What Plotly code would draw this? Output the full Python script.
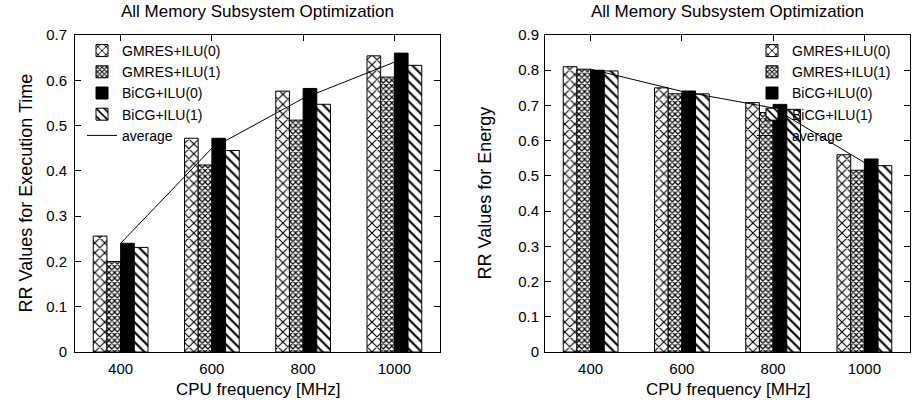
import plotly.graph_objects as go

# ---------------- data ----------------
freqs = ["400", "600", "800", "1000"]
series_names = ["GMRES+ILU(0)", "GMRES+ILU(1)", "BiCG+ILU(0)", "BiCG+ILU(1)"]

time_gmres_ilu0 = [0.256, 0.472, 0.576, 0.654]
time_gmres_ilu1 = [0.200, 0.413, 0.512, 0.607]
time_bicg_ilu0 = [0.240, 0.472, 0.582, 0.660]
time_bicg_ilu1 = [0.231, 0.445, 0.547, 0.633]
time_average = [0.240, 0.450, 0.560, 0.640]

energy_gmres_ilu0 = [0.810, 0.750, 0.708, 0.560]
energy_gmres_ilu1 = [0.803, 0.733, 0.680, 0.516]
energy_bicg_ilu0 = [0.800, 0.741, 0.703, 0.548]
energy_bicg_ilu1 = [0.798, 0.733, 0.689, 0.529]
energy_average = [0.803, 0.740, 0.693, 0.538]

title_text = "All Memory Subsystem Optimization"
xlabel = "CPU frequency [MHz]"
ylabel_time = "RR Values for Execution Time"
ylabel_energy = "RR Values for Energy"

# ---------------- styles ----------------
FONT = "Liberation Sans, Arial, Helvetica, sans-serif"
W, H = 914, 403

styles = [
    dict(color="white", pattern=dict(shape="x", size=7, solidity=0.3, fgcolor="black", bgcolor="white")),
    dict(color="white", pattern=dict(shape="x", size=4, solidity=0.5, fgcolor="black", bgcolor="white")),
    dict(color="black"),
    dict(color="white", pattern=dict(shape="\\", size=7, solidity=0.3, fgcolor="black", bgcolor="white")),
]

fig = go.Figure()


def add_panel(values, avg, xa, ya, legend):
    for name, vals, st in zip(series_names, values, styles):
        m = dict(line=dict(color="black", width=1), **st)
        fig.add_trace(go.Bar(x=freqs, y=vals, name=name, marker=m,
                             xaxis=xa, yaxis=ya, legend=legend))
    fig.add_trace(go.Scatter(x=freqs, y=avg, name="average", mode="lines",
                             line=dict(color="black", width=1),
                             xaxis=xa, yaxis=ya, legend=legend))


add_panel([time_gmres_ilu0, time_gmres_ilu1, time_bicg_ilu0, time_bicg_ilu1],
          time_average, "x", "y", "legend")
add_panel([energy_gmres_ilu0, energy_gmres_ilu1, energy_bicg_ilu0, energy_bicg_ilu1],
          energy_average, "x2", "y2", "legend2")

ydom = [(H - 352) / H, (H - 35) / H]
xdom1 = [75 / W, 440 / W]
xdom2 = [545 / W, 910 / W]

axis_common = dict(showline=True, linecolor="black", linewidth=1, mirror="ticks",
                   ticks="inside", ticklen=6, tickcolor="black", tickwidth=1,
                   showgrid=False, zeroline=False, automargin=False,
                   tickfont=dict(family=FONT, size=15, color="black"))

fig.update_layout(
    template="none",
    width=W, height=H,
    margin=dict(l=0, r=0, t=0, b=0, pad=0),
    paper_bgcolor="white", plot_bgcolor="white",
    barmode="group", bargap=0.4, bargroupgap=0,
    font=dict(family=FONT, color="black"),
    xaxis=dict(domain=xdom1, anchor="y", type="category", range=[-0.5, 3.5],
               ticklabelstandoff=3, **axis_common),
    yaxis=dict(domain=ydom, anchor="x", range=[0, 0.7], dtick=0.1, tick0=0,
               ticklabelstandoff=4, **axis_common),
    xaxis2=dict(domain=xdom2, anchor="y2", type="category", range=[-0.5, 3.5],
                ticklabelstandoff=3, **axis_common),
    yaxis2=dict(domain=ydom, anchor="x2", range=[0, 0.9], dtick=0.1, tick0=0,
                ticklabelstandoff=2, **axis_common),
    legend=dict(x=82 / W, y=(H - 35) / H, xanchor="left", yanchor="top",
                bgcolor="rgba(0,0,0,0)", font=dict(family=FONT, size=14),
                tracegroupgap=0),
    legend2=dict(x=752 / W, y=(H - 35) / H, xanchor="left", yanchor="top",
                 bgcolor="rgba(0,0,0,0)", font=dict(family=FONT, size=14),
                 tracegroupgap=0),
    showlegend=True,
)

ann = []
for xd in (xdom1, xdom2):
    cx = (xd[0] + xd[1]) / 2
    ann.append(dict(text=title_text, x=cx, y=(H - 12) / H, xref="paper", yref="paper",
                    showarrow=False, xanchor="center", yanchor="middle",
                    font=dict(family=FONT, size=17)))
    ann.append(dict(text=xlabel, x=cx, y=(H - 389) / H, xref="paper", yref="paper",
                    showarrow=False, xanchor="center", yanchor="middle",
                    font=dict(family=FONT, size=17)))
cy = (ydom[0] + ydom[1]) / 2
ann.append(dict(text=ylabel_time, x=25 / W, y=cy, xref="paper", yref="paper", textangle=-90,
                showarrow=False, xanchor="center", yanchor="middle",
                font=dict(family=FONT, size=18)))
ann.append(dict(text=ylabel_energy, x=484 / W, y=cy, xref="paper", yref="paper", textangle=-90,
                showarrow=False, xanchor="center", yanchor="middle",
                font=dict(family=FONT, size=18)))
fig.update_layout(annotations=ann)

fig.write_html("out.html", config={"displayModeBar": False},
               post_script="document.body.style.margin='0px';")
